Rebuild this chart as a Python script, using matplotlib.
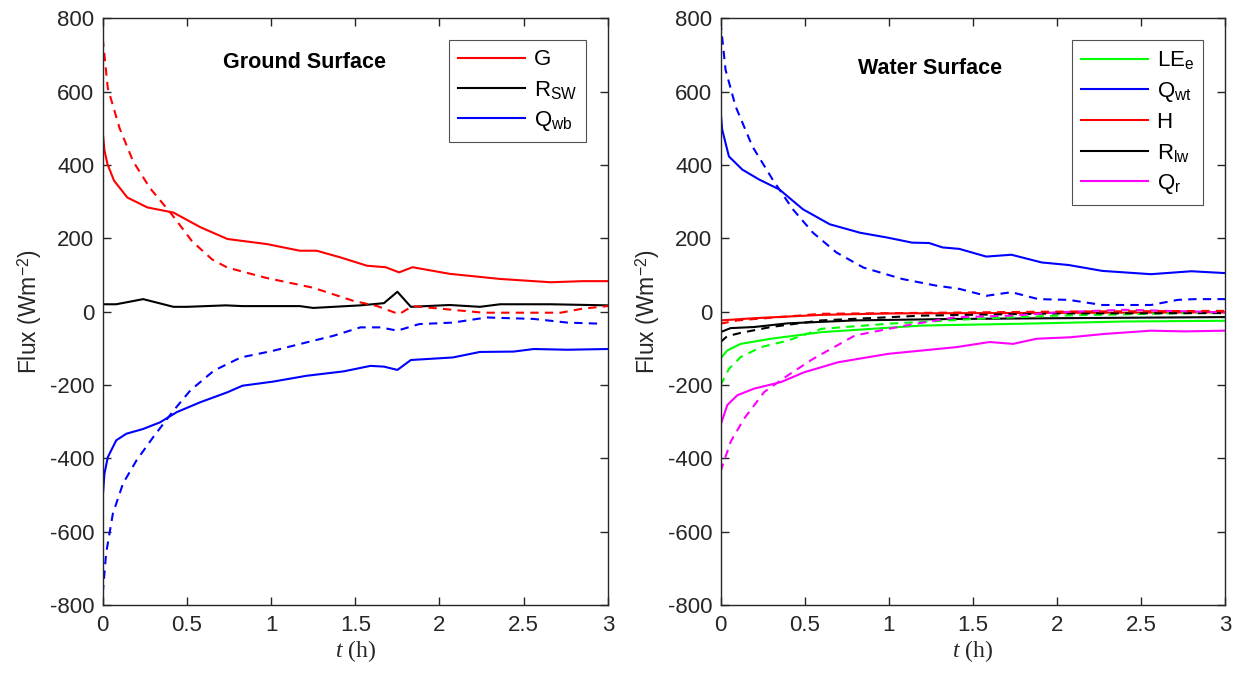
import numpy as np
import matplotlib
matplotlib.use("Agg")
import matplotlib.pyplot as plt

plt.rcParams["font.family"] = ["Liberation Sans", "DejaVu Sans"]
plt.rcParams["mathtext.fontset"] = "custom"
plt.rcParams["mathtext.sf"] = "Liberation Sans"
plt.rcParams["mathtext.rm"] = "Liberation Sans"
plt.rcParams["mathtext.it"] = "Liberation Serif:italic"
plt.rcParams["axes.unicode_minus"] = False

# ---------------- Ground surface (left) ----------------
t_g = [0, 0.01, 0.028, 0.067, 0.146, 0.265, 0.42, 0.58, 0.74, 0.976, 1.17, 1.27, 1.41,
       1.57, 1.68, 1.76, 1.84, 2.06, 2.36, 2.66, 2.85, 3.0]
G_solid = [489, 440, 402, 357, 311, 284, 270, 230, 198, 184, 166, 166, 148,
           125, 121, 107, 121, 103, 89, 80, 83, 83]

t_gd = [0, 0.03, 0.1, 0.18, 0.28, 0.41, 0.53, 0.65, 0.74, 0.97, 1.25, 1.49,
        1.63, 1.76, 1.84, 2.26, 2.72, 2.85, 3.0]
G_dash = [745, 609, 500, 410, 337, 265, 192, 142, 120, 92, 65, 29,
          15, -7, 15, -3, -3, 8, 15]

t_r = [0, 0.08, 0.24, 0.42, 0.5, 0.73, 0.83, 1.17, 1.25, 1.53, 1.67, 1.75,
       1.83, 2.06, 2.24, 2.36, 2.66, 3.0]
Rsw = [20, 20, 34, 13, 13, 17, 15, 15, 10, 17, 23, 54,
       13, 18, 13, 20, 20, 17]

t_q = [0, 0.01, 0.03, 0.08, 0.14, 0.24, 0.34, 0.44, 0.58, 0.74, 0.83, 1.01,
       1.21, 1.43, 1.59, 1.67, 1.75, 1.83, 2.08, 2.24, 2.44, 2.56, 2.76, 3.0]
Qwb_solid = [-505, -442, -397, -351, -333, -320, -302, -274, -247, -220, -202, -191,
             -175, -163, -148, -150, -159, -132, -125, -110, -109, -102, -104, -102]

t_qd = [0, 0.02, 0.06, 0.12, 0.2, 0.3, 0.42, 0.52, 0.66, 0.82, 1.01, 1.21,
        1.37, 1.53, 1.65, 1.75, 1.88, 2.08, 2.28, 2.56, 2.76, 2.96]
Qwb_dash = [-768, -659, -551, -469, -406, -342, -270, -215, -161, -125, -107, -84,
            -66, -43, -43, -52, -34, -30, -16, -20, -30, -33]

# ---------------- Water surface (right) ----------------
t_w = [0, 0.01, 0.05, 0.13, 0.23, 0.35, 0.49, 0.65, 0.83, 0.99, 1.14, 1.24,
       1.32, 1.42, 1.58, 1.73, 1.91, 2.07, 2.27, 2.56, 2.8, 3.0]
Qwt_solid = [550, 496, 423, 387, 360, 333, 279, 238, 215, 202, 188, 187,
             175, 171, 150, 155, 134, 127, 111, 102, 110, 105]

t_wd = [0, 0.03, 0.09, 0.19, 0.31, 0.43, 0.55, 0.69, 0.85, 1.08, 1.28, 1.42,
        1.58, 1.73, 1.89, 2.07, 2.27, 2.56, 2.72, 2.82, 3.0]
Qwt_dash = [790, 659, 559, 450, 360, 279, 215, 161, 120, 89, 71, 62,
            43, 53, 34, 32, 18, 18, 32, 34, 34]

t_h = [0, 0.2, 0.6, 1.0, 3.0]
H_solid = [-24, -18, -9, -5, -2]
t_hd = [0, 0.1, 0.6, 2.0, 3.0]
H_dash = [-33, -24, -6, 0, 2]

t_rl = [0, 0.06, 0.2, 0.4, 0.8, 1.4, 2.0, 3.0]
Rlw_solid = [-56, -45, -42, -32, -24, -20, -18, -15]
t_rld = [0, 0.04, 0.12, 0.3, 0.6, 1.2, 2.0, 3.0]
Rlw_dash = [-83, -67, -58, -42, -24, -11, -5, -4]

t_le = [0, 0.04, 0.12, 0.3, 0.6, 1.2, 1.8, 2.4, 3.0]
LE_solid = [-128, -106, -88, -74, -56, -38, -33, -27, -25]
t_led = [0, 0.05, 0.12, 0.24, 0.4, 0.6, 1.0, 1.6, 2.0, 3.0]
LE_dash = [-201, -156, -124, -97, -79, -47, -33, -18, -11, -2]

t_qr = [0, 0.04, 0.1, 0.2, 0.36, 0.5, 0.7, 1.0, 1.2, 1.4, 1.6, 1.74, 1.88,
        2.08, 2.28, 2.56, 2.76, 3.0]
Qr_solid = [-310, -255, -228, -210, -192, -165, -138, -115, -106, -97, -83, -88, -74,
            -70, -61, -52, -54, -52]
t_qrd = [0, 0.06, 0.14, 0.26, 0.4, 0.55, 0.8, 1.1, 1.4, 1.74, 2.0, 2.4, 3.0]
Qr_dash = [-436, -355, -292, -219, -174, -129, -65, -38, -15, -11, -2, 5, -2]

red = "#ff0000"
blue = "#0000ff"
green = "#00ff00"
mag = "#ff00ff"
lw = 1.5
dash = (0, (4, 3))
grey = "#262626"

fig = plt.figure(figsize=(12.38, 6.73), dpi=100)
ax1 = fig.add_axes([0.083, 0.101, 0.408, 0.872])
ax2 = fig.add_axes([0.582, 0.101, 0.4075, 0.872])

# left panel
ax1.plot(t_g, G_solid, color=red, lw=lw, label="G")
ax1.plot(t_r, Rsw, color="k", lw=lw, label=r"R$_{\mathsf{SW}}$")
ax1.plot(t_q, Qwb_solid, color=blue, lw=lw, label=r"Q$_{\mathsf{wb}}$")
ax1.plot(t_gd, G_dash, color=red, lw=lw, ls=dash)
ax1.plot(t_qd, Qwb_dash, color=blue, lw=lw, ls=dash)
ax1.text(0.4, 0.925, "Ground Surface", transform=ax1.transAxes, ha="center",
         va="center", fontsize=15.5, fontweight="bold")

# right panel
ax2.plot(t_le, LE_solid, color=green, lw=lw, label=r"LE$_{\mathsf{e}}$")
ax2.plot(t_w, Qwt_solid, color=blue, lw=lw, label=r"Q$_{\mathsf{wt}}$")
ax2.plot(t_h, H_solid, color=red, lw=lw, label="H")
ax2.plot(t_rl, Rlw_solid, color="k", lw=lw, label=r"R$_{\mathsf{lw}}$")
ax2.plot(t_qr, Qr_solid, color=mag, lw=lw, label=r"Q$_{\mathsf{r}}$")
ax2.plot(t_led, LE_dash, color=green, lw=lw, ls=dash)
ax2.plot(t_wd, Qwt_dash, color=blue, lw=lw, ls=dash)
ax2.plot(t_rld, Rlw_dash, color="k", lw=lw, ls=dash)
ax2.plot(t_qrd, Qr_dash, color=mag, lw=lw, ls=dash)
ax2.plot(t_hd, H_dash, color=red, lw=lw, ls=dash)
ax2.text(0.416, 0.915, "Water Surface", transform=ax2.transAxes, ha="center",
         va="center", fontsize=15.5, fontweight="bold")

for ax in (ax1, ax2):
    ax.set_xlim(0, 3)
    ax.set_ylim(-800, 800)
    ax.set_xticks([0, 0.5, 1, 1.5, 2, 2.5, 3])
    ax.set_xticklabels(["0", "0.5", "1", "1.5", "2", "2.5", "3"])
    ax.set_yticks(np.arange(-800, 801, 200))
    ax.tick_params(direction="in", length=6, width=1, labelsize=16,
                   top=True, right=True, colors=grey, labelcolor=grey)
    ax.tick_params(axis="y", pad=6)
    ax.tick_params(axis="x", pad=7)
    for s in ax.spines.values():
        s.set_color(grey)
        s.set_linewidth(1)
    ax.set_ylabel(r"Flux (Wm$^{\mathsf{-2}}$)", fontsize=16.5, color=grey, labelpad=4)
    ax.set_xlabel(r"$t$ (h)", fontsize=17, family="Liberation Serif",
                  color=grey, labelpad=2)
    leg = ax.legend(loc="upper right", fontsize=16, frameon=True, fancybox=False,
                    edgecolor=grey, handlelength=3.0, handletextpad=0.4,
                    borderaxespad=1.0, labelspacing=0.38, borderpad=0.4)
    leg.get_frame().set_linewidth(0.8)

fig.savefig("out.png", dpi=100)
